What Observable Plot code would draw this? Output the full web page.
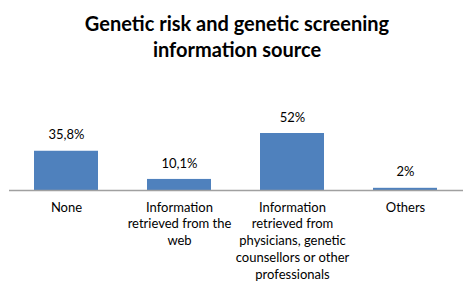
<!DOCTYPE html>
<html>
<head>
<meta charset="utf-8">
<script src="https://cdn.jsdelivr.net/npm/d3@7"></script>
<script src="https://cdn.jsdelivr.net/npm/@observablehq/plot@0.6"></script>
<style>
  html, body { margin: 0; padding: 0; background: #fff; }
  #wrap { width: 474px; height: 296px; position: relative; overflow: hidden; }
  #title { height: 70px; box-sizing: border-box; padding-top: 10px; text-align: center;
    font-family: Lato, "Open Sans", sans-serif; font-weight: bold; font-size: 20px; line-height: 26px; color: #000; }
</style>
</head>
<body>
<div id="wrap">
  <div id="title">Genetic risk and genetic screening<br>information source</div>
  <div id="chart"></div>
</div>
<script>
const categories = ["None", "Web", "Professionals", "Others"];
const values = [35.8, 10.1, 52, 2];
const tickLabels = [
  "None",
  "Information\nretrieved from the\nweb",
  "Information\nretrieved from\nphysicians, genetic\ncounsellors or other\nprofessionals",
  "Others"
];
const valueLabels = values.map(v => String(v).replace(".", ",") + "%");

const data = categories.map((c, i) => ({cat: c, value: values[i], label: valueLabels[i], tick: tickLabels[i]}));

const chart = Plot.plot({
  width: 474,
  height: 226,
  marginLeft: 9,
  marginRight: 11,
  marginTop: 63,
  marginBottom: 106,
  style: {fontFamily: "Lato, 'Open Sans', sans-serif", color: "#000", background: "transparent"},
  x: {domain: categories, paddingInner: 0.43, paddingOuter: 0.215, axis: null},
  y: {domain: [0, 52], axis: null},
  marks: [
    Plot.barY(data, {x: "cat", y: "value", fill: "#4f81bd"}),
    Plot.ruleY([0], {stroke: "#a0a0a0", strokeWidth: 1.5}),
    Plot.text(data, {x: "cat", y: "value", text: "label", dy: -16, fontSize: 13, fill: "#000"}),
    Plot.text(data, {x: "cat", y: 0, text: "tick", dy: 9, lineAnchor: "top", lineHeight: 1.3, fontSize: 13, fill: "#000"})
  ]
});
document.getElementById("chart").appendChild(chart);
</script>
</body>
</html>
